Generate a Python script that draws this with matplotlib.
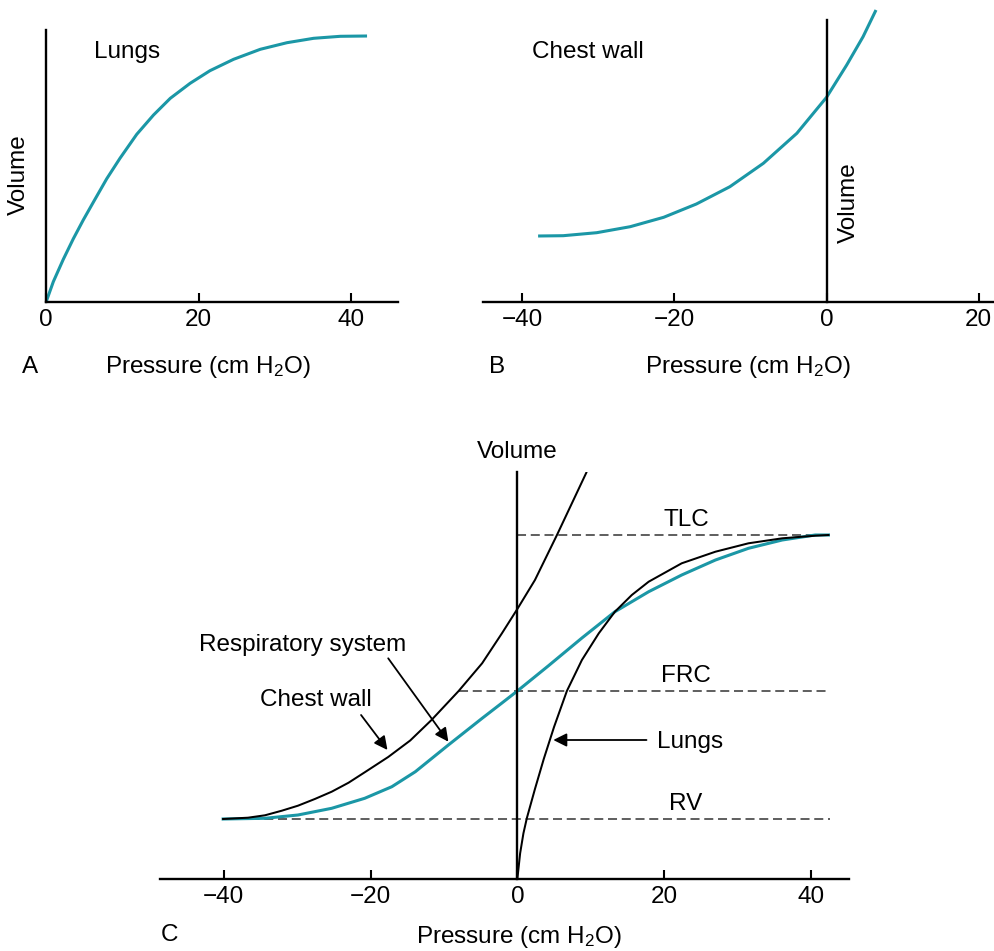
import numpy as np
import matplotlib
matplotlib.use("Agg")
import matplotlib.pyplot as plt

plt.rcParams['font.family'] = ['Liberation Sans', 'DejaVu Sans']
plt.rcParams['mathtext.fontset'] = 'custom'
plt.rcParams['mathtext.rm'] = 'Liberation Sans'
plt.rcParams['mathtext.it'] = 'Liberation Sans:italic'
plt.rcParams['lines.scale_dashes'] = False

# --- data (pressure in cm H2O, volume in arbitrary units) ---
# A: lungs alone
lung_a_p = [0, 0.96, 2.27, 3.58, 4.9, 6.2, 7.96, 9.7, 11.9, 14.1, 16.3, 18.9,
            21.5, 24.6, 28.1, 31.6, 35.1, 38.6, 42.1]
lung_a_v = [0, 20.6, 43, 63.5, 82.5, 100, 123.5, 144, 168, 187.3, 204, 219,
            231.6, 243, 253, 259.6, 264, 266, 266.3]

# B: chest wall alone
chest_b_p = [-37.9, -34.6, -30.2, -25.8, -21.4, -17.1, -12.7, -8.3, -3.9, 0, 2.65, 4.8, 6.5]
chest_b_v = [66, 66.3, 69.3, 75.3, 84.7, 98, 115.3, 138.7, 168.7, 204.7, 237, 265.3, 292]

# C: all three curves together
chest_c_p = [-40.1, -36.7, -34.4, -32.1, -29.9, -27.6, -25.3, -23.0, -20.8, -17.6,
             -14.6, -11.7, -8.0, -4.8, -2.1, 0, 2.4, 5.4, 9.4]
chest_c_v = [60, 61.3, 63.7, 68.3, 73.3, 80, 87.3, 96.3, 106.7, 122,
             138.5, 159, 188, 215.7, 245.7, 270, 299, 344, 406.3]

resp_c_p = [-40.1, -34.4, -29.9, -25.3, -20.8, -17.1, -13.9, -9.4, -4.8, -2.1, 0,
            4.2, 8.8, 13.3, 17.9, 22.4, 27.0, 31.5, 36.1, 40.6, 42.4]
resp_c_v = [60, 60.7, 64, 70.7, 80.7, 92.3, 107.3, 134, 160.7, 176, 188,
            213, 241, 267.3, 287.3, 304, 319, 330.7, 339, 344, 344]

lung_c_p = [0, 0.38, 0.83, 1.3, 2.4, 3.6, 5.0, 6.75, 8.8, 11.1, 13.3, 15.6, 17.9,
            22.4, 27.0, 31.5, 36.1, 40.6, 42.4]
lung_c_v = [0, 25.7, 45.7, 61, 90, 120, 152, 188, 219, 245.7, 267.3, 284, 297.3,
            315.7, 327.3, 335.7, 340.7, 343.3, 344]

# lung volume levels: name, volume, start pressure, end pressure
levels = [("TLC", 344, 0, 42.6), ("FRC", 188, -8.0, 42.6), ("RV", 60, -40.1, 42.6)]

ticks_a = [0, 20, 40]
ticks_b = [-40, -20, 0, 20]
ticks_c = [-40, -20, 0, 20, 40]

TEAL = '#1b97a6'
FS = 17.5
W, H = 995, 951
xlabel = 'Pressure (cm H$_2$O)'

fig = plt.figure(figsize=(W / 100, H / 100), dpi=100)


def px_axes(left, right, top, bottom):
    return fig.add_axes([left / W, 1 - bottom / H, (right - left) / W, (bottom - top) / H])


def ftext(x, y, s, **kw):
    fig.text(x / W, 1 - y / H, s, fontsize=FS, ha='center', va='center', **kw)


def style(ax, ticks):
    for s in ['top', 'right']:
        ax.spines[s].set_visible(False)
    for s in ['left', 'bottom']:
        ax.spines[s].set_linewidth(1.7)
    ax.set_yticks([])
    ax.set_xticks(ticks)
    ax.tick_params(axis='x', direction='in', length=6.5, width=1.5, pad=5, labelsize=FS)
    ax.patch.set_alpha(0)


# panel A
axA = px_axes(46, 398.3, 30, 302.3)
axA.set_xlim(0, 46.2)
axA.set_ylim(0, 272.3)
style(axA, ticks_a)
axA.plot(lung_a_p, lung_a_v, color=TEAL, lw=2.2, solid_capstyle='butt')
ftext(126.7, 52, 'Lungs')
ftext(19, 175, 'Volume', rotation=90)
ftext(30, 367, 'A')
ftext(208, 367, xlabel)

# panel B (runs off the right edge, like the original)
axB = px_axes(483.3, 1016.8, 0, 302)
axB.set_xlim(-45.1, 25.0)
axB.set_ylim(0, 302)
style(axB, ticks_b)
axB.spines['left'].set_position(('data', 0))
axB.spines['left'].set_bounds(0, 282)
axB.plot(chest_b_p, chest_b_v, color=TEAL, lw=2.2, solid_capstyle='butt')
ftext(587.5, 52, 'Chest wall')
ftext(849, 203, 'Volume', rotation=90)
ftext(496.8, 367, 'B')
ftext(748.3, 367, xlabel)

# panel C
axC = px_axes(160, 849, 471.7, 879)
axC.set_xlim(-48.7, 45.2)
axC.set_ylim(0, 407.3)
style(axC, ticks_c)
axC.spines['left'].set_position(('data', 0))
for name, v, p0, p1 in levels:
    axC.plot([p0, p1], [v, v], color='#333333', lw=1.1, linestyle=(0, (6.5, 3.4)))
axC.plot(resp_c_p, resp_c_v, color=TEAL, lw=2.2)
axC.plot(chest_c_p, chest_c_v, color='black', lw=1.45)
axC.plot(lung_c_p, lung_c_v, color='black', lw=1.45)

axC.text(0, 427, 'Volume', fontsize=FS, ha='center', va='center')
for name, v, p0, p1 in levels:
    axC.text(23.0, v + 15.5, name, fontsize=FS, ha='center', va='center')

arrow = dict(arrowstyle='-|>', color='black', lw=1.3, mutation_scale=20, shrinkA=0, shrinkB=0)
axC.annotate('', xy=(-9.4, 137.3), xytext=(-17.6, 220.7), arrowprops=arrow)
axC.text(-29.3, 234, 'Respiratory system', fontsize=FS, ha='center', va='center')
axC.annotate('', xy=(-17.7, 129), xytext=(-21.3, 164), arrowprops=arrow)
axC.text(-27.4, 179, 'Chest wall', fontsize=FS, ha='center', va='center')
axC.annotate('', xy=(4.9, 139), xytext=(17.6, 139), arrowprops=arrow)
axC.text(19.0, 137.3, 'Lungs', fontsize=FS, ha='left', va='center')

ftext(170, 935, 'C')
ftext(519, 937, xlabel)

fig.savefig('out.png', dpi=100)
